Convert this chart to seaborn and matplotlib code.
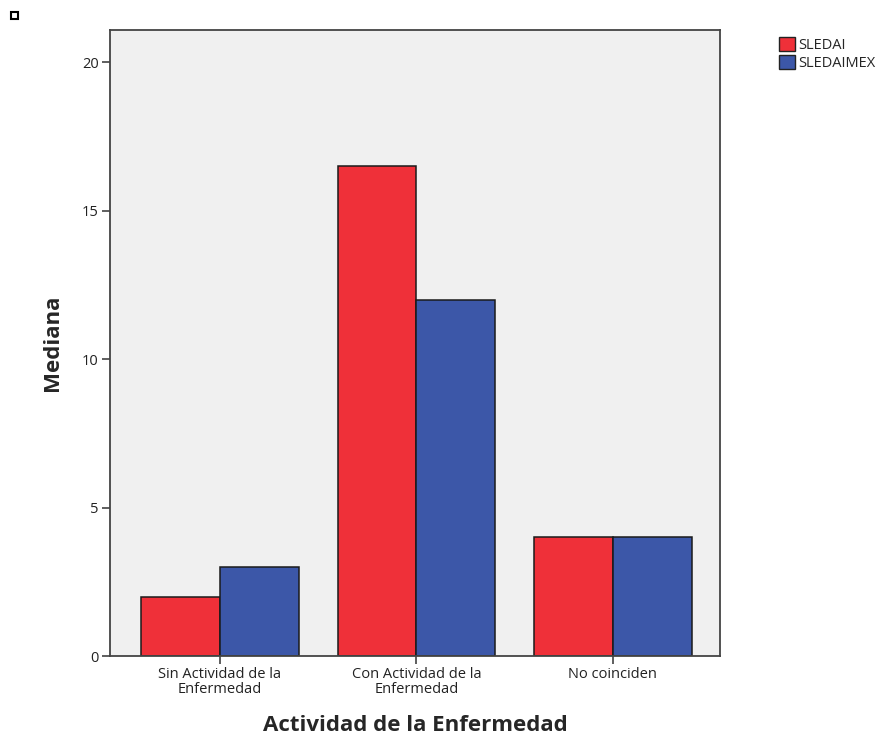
import matplotlib
matplotlib.use("Agg")
import matplotlib.pyplot as plt
import matplotlib.patches as mpatches
import pandas as pd
import seaborn as sns

# Data
categories = ["Sin Actividad de la\nEnfermedad", "Con Actividad de la\nEnfermedad", "No coinciden"]
sledai = [2, 16.5, 4]
sledaimex = [3, 12, 4]
series_names = ["SLEDAI", "SLEDAIMEX"]
colors = ["#ef3039", "#3c57a8"]

df = pd.DataFrame({
    "categoria": categories * 2,
    "mediana": sledai + sledaimex,
    "serie": [series_names[0]] * 3 + [series_names[1]] * 3,
})

sns.set_style("white")
plt.rcParams["font.family"] = ["Open Sans", "DejaVu Sans"]

fig = plt.figure(figsize=(8.86, 7.4), dpi=100)
ax = fig.add_axes([110 / 886, 84 / 740, 610 / 886, 626 / 740])
ax.set_facecolor("#f0f0f0")

sns.barplot(data=df, x="categoria", y="mediana", hue="serie", order=categories,
            hue_order=series_names, palette=colors, width=0.8, saturation=1,
            edgecolor="#1a1a1a", linewidth=1.1, legend=False, ax=ax)

ax.set_ylim(0, 21.08)
ax.set_xlim(-0.56, 2.545)
ax.set_yticks([0, 5, 10, 15, 20])
ax.tick_params(axis="both", direction="out", length=6, width=1.1, color="#333333",
               labelsize=10.5, labelcolor="#222222", left=True, bottom=True, pad=2)
for t in ax.get_xticklabels():
    t.set_linespacing(0.95)
for s in ax.spines.values():
    s.set_color("#444444")
    s.set_linewidth(1.3)

ax.set_xlabel("Actividad de la Enfermedad", fontsize=16, fontweight="bold", labelpad=13)
ax.set_ylabel("Mediana", fontsize=16, fontweight="bold", labelpad=14)

handles = [mpatches.Patch(facecolor=c, edgecolor="#222222", linewidth=1) for c in colors]
fig.legend(handles, series_names, loc="upper left", bbox_to_anchor=(772 / 886, 1 - 30 / 740),
           frameon=False, fontsize=10.5, handlelength=1.1, handleheight=1.1,
           handletextpad=0.2, labelspacing=0.1, borderpad=0)

# small marker square in the top-left corner
fig.patches.append(mpatches.Rectangle((11 / 886, 1 - 19 / 740), 7 / 886, 7 / 740,
                                      transform=fig.transFigure, fill=False,
                                      edgecolor="black", linewidth=1.5))

fig.savefig("out.png", dpi=100)
